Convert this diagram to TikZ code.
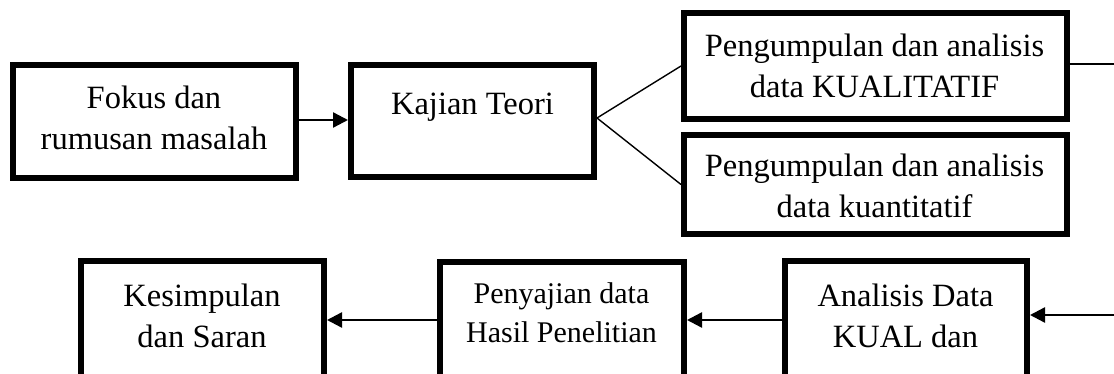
\documentclass[tikz,border=0pt]{standalone}
\usepackage{fontspec}
\setmainfont{Liberation Serif}
\usetikzlibrary{arrows.meta}
\begin{document}
\begin{tikzpicture}[x=1pt,y=-1pt,
  box/.style={draw, line width=6pt, rectangle, inner sep=0pt},
  txt/.style={align=center, font=\fontsize{32.5}{41}\selectfont, inner sep=0pt},
  smalltxt/.style={align=center, font=\fontsize{30}{39}\selectfont, inner sep=0pt},
  arr/.style={line width=2.4pt, -{Triangle[length=15pt,width=15pt]}},
  thinline/.style={line width=1.4pt}]
\useasboundingbox (0,0) rectangle (1114,374);
\clip (0,0) rectangle (1114,374);
% boxes
\node[box, minimum width=283pt, minimum height=113pt] (b1) at (154.5,121.5) {};
\node[box, minimum width=243pt, minimum height=112pt] (b2) at (472.5,121) {};
\node[box, minimum width=383pt, minimum height=106pt] (b3) at (875.5,66) {};
\node[box, minimum width=383pt, minimum height=99pt] (b4) at (875.5,184.5) {};
\node[box, minimum width=243pt, minimum height=116pt] (b5) at (202.5,319.5) {};
\node[box, minimum width=244pt, minimum height=116pt] (b6) at (562,320) {};
\node[box, minimum width=242pt, minimum height=116pt] (b7) at (906,319.5) {};
% texts
\node[txt] (t1) at (154,118) {Fokus dan\\rumusan masalah};
\node[txt] (t2) at (472.5,107) {Kajian Teori};
\node[txt] (t3) at (874.5,66) {Pengumpulan dan analisis\\data KUALITATIF};
\node[txt] (t4) at (874.5,186) {Pengumpulan dan analisis\\data kuantitatif};
\node[txt] (t5) at (202,316) {Kesimpulan\\dan Saran};
\node[smalltxt] (t6) at (561.5,312.5) {Penyajian data\\Hasil Penelitian};
\node[txt] (t7) at (905.5,316) {Analisis Data\\KUAL dan};
% free ends and connection heights
\coordinate (r1) at (1114,64);
\coordinate (r2) at (1114,315);
\coordinate (h1) at (0,120);
\coordinate (h2) at (0,320);
\coordinate (f) at (0,118);
% connectors
\draw[arr] (b1.east |- h1) -- (b2.west |- h1);
\draw[thinline] (b2.east |- f) -- (b3.west);
\draw[thinline] (b2.east |- f) -- (b4.west);
\draw[thinline] (b3.east |- r1) -- (r1);
\draw[arr] (r2) -- (r2 -| b7.east);
\draw[arr] (b7.west |- h2) -- (b6.east |- h2);
\draw[arr] (b6.west |- h2) -- (b5.east |- h2);
\end{tikzpicture}
\end{document}
